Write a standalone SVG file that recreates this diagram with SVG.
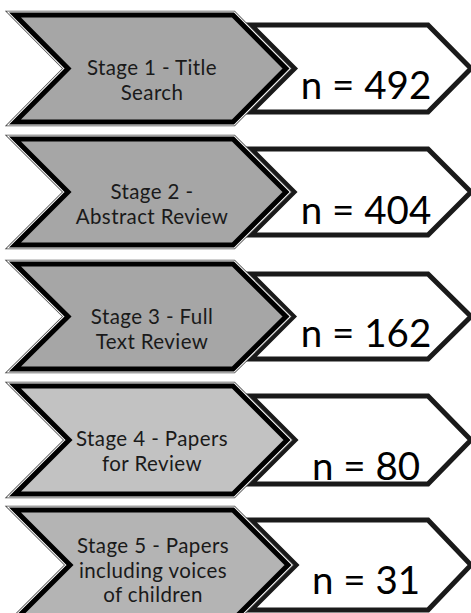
<svg xmlns="http://www.w3.org/2000/svg" width="471" height="613" viewBox="0 0 471 613">
<style>
.o1{fill:none;stroke:#444;stroke-width:8.5;stroke-linejoin:miter}
.o2{fill:none;stroke:#fff;stroke-width:7;stroke-linejoin:miter}
.g{stroke:#000;stroke-width:5;stroke-linejoin:miter}
.w{fill:#fff;stroke:#1a1a1a;stroke-width:5;stroke-linejoin:miter}
.s{font-family:Lato,"Liberation Sans",sans-serif;font-size:20.5px;letter-spacing:0.4px;fill:#1a1a1a;text-anchor:middle}
.n{font-family:Lato,"Liberation Sans",sans-serif;font-size:38.5px;fill:#000;text-anchor:middle}
</style>
<rect width="471" height="613" fill="#fff"/>
<g id="row1">
<path class="w" d="M251,25 L428,25 L471,68.5 L428,112 L251,112 L294.5,68.5 Z"/>
<path class="o1" d="M15,15 L233,15 L286,68.5 L233,122 L15,122 L68,68.5 Z"/>
<path class="o2" d="M15,15 L233,15 L286,68.5 L233,122 L15,122 L68,68.5 Z"/>
<path class="g" fill="#a6a6a6" d="M15,15 L233,15 L286,68.5 L233,122 L15,122 L68,68.5 Z"/>
<text class="s" x="152" y="75">Stage 1 - Title</text>
<text class="s" x="152" y="99.6">Search</text>
<text class="n" x="366" y="99">n = 492</text>
</g>
<g id="row2">
<path class="w" d="M251,149 L428,149 L471,192 L428,235 L251,235 L294,192 Z"/>
<path class="o1" d="M15,139 L233,139 L286,192 L233,245 L15,245 L68,192 Z"/>
<path class="o2" d="M15,139 L233,139 L286,192 L233,245 L15,245 L68,192 Z"/>
<path class="g" fill="#a6a6a6" d="M15,139 L233,139 L286,192 L233,245 L15,245 L68,192 Z"/>
<text class="s" x="152" y="199">Stage 2 -</text>
<text class="s" x="152" y="223.6">Abstract Review</text>
<text class="n" x="366" y="224">n = 404</text>
</g>
<g id="row3">
<path class="w" d="M251,274 L428,274 L471,316.5 L428,359 L251,359 L293.5,316.5 Z"/>
<path class="o1" d="M15,264 L233,264 L286,316.5 L233,369 L15,369 L68,316.5 Z"/>
<path class="o2" d="M15,264 L233,264 L286,316.5 L233,369 L15,369 L68,316.5 Z"/>
<path class="g" fill="#a6a6a6" d="M15,264 L233,264 L286,316.5 L233,369 L15,369 L68,316.5 Z"/>
<text class="s" x="152" y="324">Stage 3 - Full</text>
<text class="s" x="152" y="348.6">Text Review</text>
<text class="n" x="366" y="347">n = 162</text>
</g>
<g id="row4">
<path class="w" d="M251,396 L428,396 L471,440 L428,484 L251,484 L295,440 Z"/>
<path class="o1" d="M15,386 L233,386 L287,440 L233,494 L15,494 L69,440 Z"/>
<path class="o2" d="M15,386 L233,386 L287,440 L233,494 L15,494 L69,440 Z"/>
<path class="g" fill="#c2c2c2" d="M15,386 L233,386 L287,440 L233,494 L15,494 L69,440 Z"/>
<text class="s" x="152" y="446">Stage 4 - Papers</text>
<text class="s" x="152" y="470.6">for Review</text>
<text class="n" x="366" y="480">n = 80</text>
</g>
<g id="row5">
<path class="w" d="M251,520 L428,520 L471,565 L428,610 L251,610 L296,565 Z"/>
<path class="o1" d="M15,510 L233,510 L288,565 L233,620 L15,620 L70,565 Z"/>
<path class="o2" d="M15,510 L233,510 L288,565 L233,620 L15,620 L70,565 Z"/>
<path class="g" fill="#b4b4b4" d="M15,510 L233,510 L288,565 L233,620 L15,620 L70,565 Z"/>
<text class="s" x="153" y="553">Stage 5 - Papers</text>
<text class="s" x="153" y="577.6">including voices</text>
<text class="s" x="153" y="602.2">of children</text>
<text class="n" x="366" y="594">n = 31</text>
</g>
<g id="connectors"/>
</svg>
